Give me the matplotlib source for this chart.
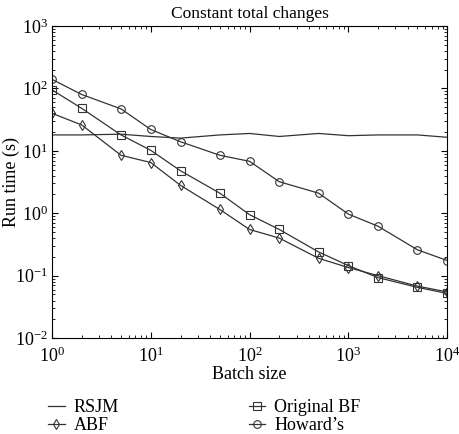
import matplotlib
matplotlib.use("Agg")
import matplotlib.pyplot as plt

plt.rcParams["font.family"] = ["Liberation Serif", "DejaVu Serif"]
plt.rcParams["mathtext.fontset"] = "stix"

batch = [1, 2, 5, 10, 20, 50, 100, 200, 500, 1000, 2000, 5000, 10000]
rsjm = [18, 18, 18.5, 17, 16, 18, 19, 17, 19, 17.5, 18, 18, 16.5]
abf = [40, 26, 8.5, 6.5, 2.8, 1.15, 0.55, 0.4, 0.19, 0.135, 0.1, 0.068, 0.055]
orig_bf = [95, 48, 18, 10.2, 4.8, 2.1, 0.95, 0.55, 0.24, 0.145, 0.093, 0.065, 0.052]
howard = [140, 80, 47, 22, 14, 8.5, 6.8, 3.2, 2.1, 0.97, 0.62, 0.26, 0.175]

fig = plt.figure(figsize=(4.6, 4.34), dpi=100)
ax = fig.add_axes([0.113, 0.221, 0.859, 0.719])

lc = "#333333"
kw = dict(color=lc, linewidth=0.9, markersize=5.5, markerfacecolor="none",
          markeredgewidth=0.8)
ax.plot(batch, rsjm, label="RSJM", **kw)
ax.plot(batch, abf, marker="d", label="ABF", **kw)
ax.plot(batch, orig_bf, marker="s", label="Original BF", **kw)
ax.plot(batch, howard, marker="o", label="Howard’s", **kw)

ax.set_xscale("log")
ax.set_yscale("log")
ax.set_xlim(1, 1e4)
ax.set_ylim(1e-2, 1e3)
ax.tick_params(which="both", direction="in", top=True, right=True, labelsize=13)
ax.tick_params(which="major", length=4)
ax.tick_params(which="minor", length=2)
ax.tick_params(axis="x", pad=6)
ax.tick_params(axis="y", pad=3)
ax.set_xlabel("Batch size", fontsize=13, labelpad=0)
ax.set_ylabel("Run time (s)", fontsize=13)
ax.yaxis.set_label_coords(-0.082, 0.5)
ax.set_title("Constant total changes", fontsize=12.5, pad=6)

fig.legend(ncol=2, loc="upper left", bbox_to_anchor=(0.105, 0.08),
           borderpad=0, borderaxespad=0,
           frameon=False, fontsize=13, handlelength=0.9, columnspacing=7.2,
           labelspacing=0.05, handletextpad=0.5)

fig.savefig("out.png", dpi=100)
